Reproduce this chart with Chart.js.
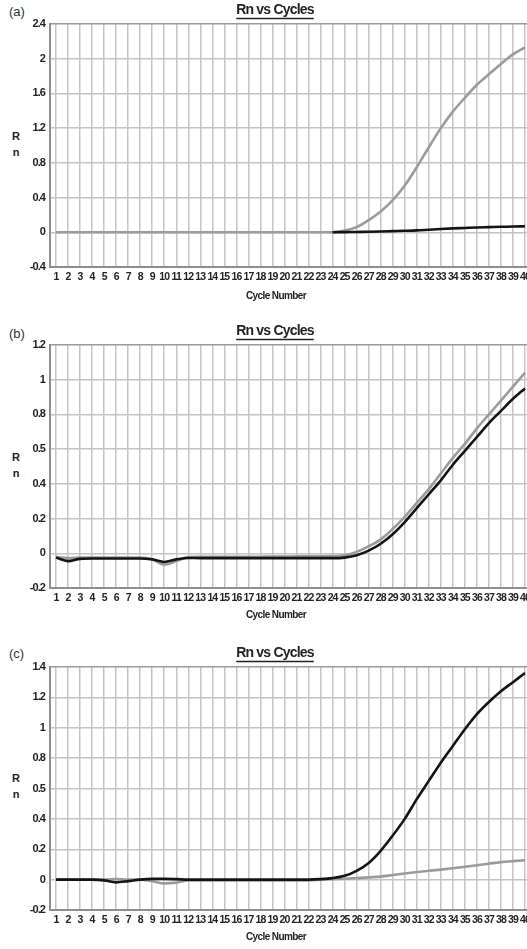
<!DOCTYPE html>
<html>
<head>
<meta charset="utf-8">
<script src="https://cdn.jsdelivr.net/npm/chart.js@4/dist/chart.umd.min.js"></script>
<style>
  html, body { margin: 0; padding: 0; background: #fff; overflow: hidden; width: 527px; height: 949px; }
  .panel { position: absolute; left: 0; }
  .tag { position: absolute; font-family: "Liberation Sans", Arial, sans-serif; font-size: 13px; color: #333; }
  .rn { position: absolute; left: 11px; font-family: "Liberation Sans", Arial, sans-serif; font-weight: bold; font-size: 11px; color: #222; line-height: 16px; width: 10px; text-align: center; }
</style>
</head>
<body>
<div class="tag" style="left:9px; top:4px;">(a)</div>
<div class="tag" style="left:9px; top:326px;">(b)</div>
<div class="tag" style="left:9px; top:646px;">(c)</div>
<div class="rn" style="top:128px;">R<br>n</div>
<div class="rn" style="top:449px;">R<br>n</div>
<div class="rn" style="top:770px;">R<br>n</div>

<canvas id="chart-a" class="panel" width="550" height="305" style="top:0px;"></canvas>
<canvas id="chart-b" class="panel" width="550" height="303" style="top:321px;"></canvas>
<canvas id="chart-c" class="panel" width="550" height="303" style="top:643px;"></canvas>

<script>
// Cycle numbers (x axis categories)
const cycles = ['1','2','3','4','5','6','7','8','9','10','11','12','13','14','15','16','17','18','19','20',
                '21','22','23','24','25','26','27','28','29','30','31','32','33','34','35','36','37','38','39','40'];

// Panel (a)
const aTicks = ['-0.4', '0', '0.4', '0.8', '1.2', '1.6', '2', '2.4'];
const aGray = [0, 0, 0, 0, 0, 0, 0, 0, 0, 0, 0, 0, 0, 0, 0, 0, 0, 0, 0, 0,
               0, 0, 0, 0, 0.02, 0.06, 0.14, 0.24, 0.37, 0.54, 0.75, 0.98, 1.2, 1.39, 1.55, 1.7, 1.82, 1.94, 2.05, 2.13];
const aBlack = [null, null, null, null, null, null, null, null, null, null, null, null, null, null, null, null, null, null, null, null,
                null, null, null, 0, 0.002, 0.004, 0.006, 0.009, 0.013, 0.017, 0.022, 0.03, 0.038, 0.045, 0.05, 0.055, 0.059, 0.063, 0.066, 0.07];

// Panel (b)
const bTicks = ['-0.2', '0', '0.2', '0.4', '0.5', '0.8', '1', '1.2'];
const bGray = [-0.02, -0.028, -0.025, -0.025, -0.025, -0.025, -0.025, -0.025, -0.035, -0.065, -0.045, -0.022, -0.02, -0.02, -0.02, -0.02, -0.02, -0.02, -0.019, -0.019,
               -0.018, -0.018, -0.017, -0.016, -0.012, 0.008, 0.04, 0.08, 0.14, 0.21, 0.29, 0.37, 0.46, 0.55, 0.63, 0.72, 0.8, 0.88, 0.96, 1.04];
const bBlack = [-0.025, -0.045, -0.032, -0.03, -0.03, -0.03, -0.03, -0.03, -0.035, -0.05, -0.035, -0.027, -0.028, -0.028, -0.028, -0.028, -0.028, -0.028, -0.028, -0.028,
                -0.028, -0.028, -0.028, -0.028, -0.025, -0.012, 0.015, 0.055, 0.11, 0.18, 0.26, 0.34, 0.42, 0.51, 0.59, 0.67, 0.75, 0.82, 0.89, 0.95];

// Panel (c)
const cTicks = ['-0.2', '0', '0.2', '0.4', '0.5', '0.8', '1', '1.2', '1.4'];
const cGray = [0, 0, 0, 0, 0, 0.004, 0, 0, -0.01, -0.025, -0.02, -0.005, -0.005, -0.005, -0.005, -0.005, -0.005, -0.005, -0.005, -0.005,
               -0.005, -0.005, 0, 0.003, 0.006, 0.01, 0.015, 0.02, 0.03, 0.04, 0.05, 0.058, 0.066, 0.075, 0.085, 0.095, 0.105, 0.115, 0.122, 0.128];
const cBlack = [0, 0, 0, 0, -0.005, -0.018, -0.01, 0, 0.005, 0.005, 0.003, 0, 0, 0, 0, 0, 0, 0, 0, 0,
                0, 0, 0.003, 0.01, 0.025, 0.058, 0.11, 0.19, 0.29, 0.4, 0.53, 0.65, 0.77, 0.88, 0.99, 1.09, 1.17, 1.24, 1.3, 1.36];

const FONT = '"Liberation Sans", Arial, sans-serif';
const SPACING = '-0.9px';

// squeeze the text a bit so it looks like the narrow font of the original
const narrowText = {
    id: 'narrowText',
    beforeUpdate(chart) { chart.ctx.letterSpacing = SPACING; },
    beforeLayout(chart) { chart.ctx.letterSpacing = SPACING; },
    beforeDraw(chart) { chart.ctx.letterSpacing = SPACING; }
};

// chart title (underlined) and x axis caption, both centred on x = 275 like the original
const panelTexts = {
    id: 'panelTexts',
    afterDraw(chart) {
        const ctx = chart.ctx;
        ctx.save();
        ctx.fillStyle = '#222';
        ctx.textAlign = 'center';
        ctx.textBaseline = 'middle';

        ctx.letterSpacing = '-0.8px';
        ctx.font = 'bold 14px ' + FONT;
        const title = 'Rn vs Cycles';
        const w = ctx.measureText(title).width;
        ctx.fillText(title, 275, 10.5);
        ctx.strokeStyle = '#222';
        ctx.lineWidth = 1.3;
        ctx.beginPath();
        ctx.moveTo(275 - w / 2, 18.5);
        ctx.lineTo(275 + w / 2, 18.5);
        ctx.stroke();

        ctx.letterSpacing = '-0.6px';
        ctx.font = 'bold 10px ' + FONT;
        ctx.fillText('Cycle Number', 276, chart.height - 8.5);
        ctx.restore();
    }
};

function makeChart(id, gray, black, yMin, yMax, yStep, yLabels, xHeight) {
    const ctx = document.getElementById(id).getContext('2d');
    return new Chart(ctx, {
        type: 'line',
        data: {
            labels: cycles,
            datasets: [{
                data: black,
                borderColor: '#141414',
                borderWidth: 2.6,
                pointRadius: 0,
                cubicInterpolationMode: 'monotone',
                spanGaps: false
            }, {
                data: gray,
                borderColor: '#9b9b9b',
                borderWidth: 2.6,
                pointRadius: 0,
                cubicInterpolationMode: 'monotone'
            }]
        },
        options: {
            responsive: false,
            animation: false,
            events: [],
            layout: {
                padding: { left: 0, right: 19, top: 24, bottom: 14 }
            },
            plugins: {
                legend: { display: false },
                tooltip: { enabled: false }
            },
            scales: {
                x: {
                    offset: true,
                    grid: { color: '#c4c4c4', lineWidth: 1.5, drawTicks: false },
                    border: { color: '#8e8e8e', width: 2 },
                    ticks: {
                        autoSkip: false,
                        maxRotation: 0,
                        padding: 4,
                        color: '#222',
                        font: { family: FONT, size: 10.5, weight: 'bold' }
                    },
                    afterFit: function(scale) { scale.height = xHeight; }
                },
                y: {
                    min: yMin,
                    max: yMax,
                    grid: {
                        color: function(c) { return c.tick && c.tick.value >= yMax - 1e-9 ? '#9a9a9a' : '#c4c4c4'; },
                        lineWidth: 1.5,
                        drawTicks: false
                    },
                    border: { color: '#8e8e8e', width: 2 },
                    ticks: {
                        stepSize: yStep,
                        padding: 5,
                        color: '#222',
                        font: { family: FONT, size: 11, weight: 'bold' },
                        callback: function(value, index) { return yLabels[index]; }
                    },
                    afterFit: function(scale) { scale.width = 50; }
                }
            }
        },
        plugins: [narrowText, panelTexts]
    });
}

makeChart('chart-a', aGray, aBlack, -0.4, 2.4, 0.4, aTicks, 24);
makeChart('chart-b', bGray, bBlack, -0.2, 1.2, 0.2, bTicks, 22);
makeChart('chart-c', cGray, cBlack, -0.2, 1.4, 0.2, cTicks, 22);
</script>
</body>
</html>
